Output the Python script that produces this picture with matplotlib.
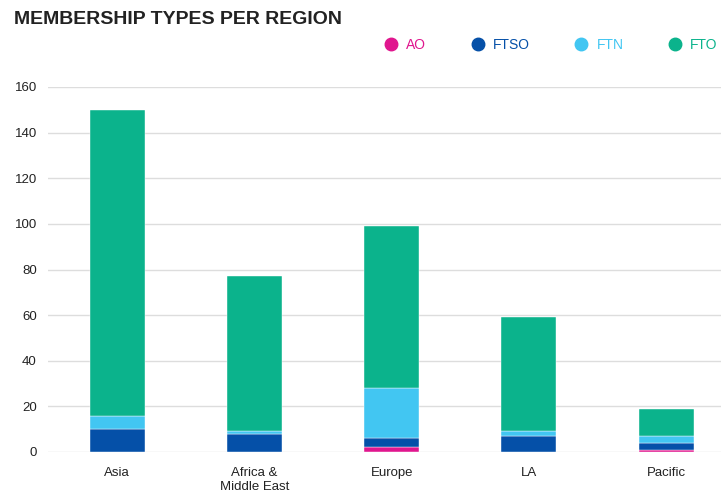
import matplotlib
matplotlib.use("Agg")
import matplotlib.pyplot as plt
from matplotlib.lines import Line2D
import numpy as np

categories = ["Asia", "Africa &\nMiddle East", "Europe", "LA", "Pacific"]
series_names = ["AO", "FTSO", "FTN", "FTO"]
ao = [0, 0, 2, 0, 1]
ftso = [10, 8, 4, 7, 3]
ftn = [6, 1, 22, 2, 3]
fto = [134, 68, 71, 50, 12]
colors = ["#E0168E", "#0550A8", "#42C6F2", "#0BB38C"]
yticks = [0, 20, 40, 60, 80, 100, 120, 140, 160]

plt.rcParams['font.family'] = ['Liberation Sans', 'DejaVu Sans']

fig = plt.figure(figsize=(7.21, 4.97), dpi=100)
ax = fig.add_axes([48/721, 45/497, 673/721, 365/497])

x = np.arange(len(categories))
bottom = np.zeros(len(categories))
for vals, col in zip([ao, ftso, ftn, fto], colors):
    ax.bar(x, vals, width=0.4, bottom=bottom, color=col, edgecolor='white', linewidth=0.3, zorder=3)
    bottom += np.array(vals)

ax.set_xlim(-0.504, 4.4)
ax.set_ylim(0, 160)
ax.set_yticks(yticks)
ax.set_xticks(x)
ax.set_xticklabels(categories, fontsize=9.5, color='#222222')
ax.tick_params(axis='y', labelsize=9.5, labelcolor='#222222', length=0, pad=8)
ax.tick_params(axis='x', length=0, pad=11)
ax.grid(axis='y', color='#dddddd', linewidth=1, zorder=0)
for s in ax.spines.values():
    s.set_visible(False)

fig.text(14/721, 1 - 19/497, "MEMBERSHIP TYPES PER REGION", fontsize=14, fontweight='bold',
         color='#222222', va='center', ha='left')

handles = [Line2D([0], [0], marker='o', linestyle='', markersize=9, markerfacecolor=c, markeredgecolor=c)
           for c in colors]
leg = fig.legend(handles, series_names, loc='center right', bbox_to_anchor=(1.013, 1 - 45/497), ncol=4,
                 frameon=False, fontsize=10, handlelength=1.0, handletextpad=0.6, columnspacing=3.2,
                 labelcolor=colors)

fig.savefig("out.png", dpi=100)
